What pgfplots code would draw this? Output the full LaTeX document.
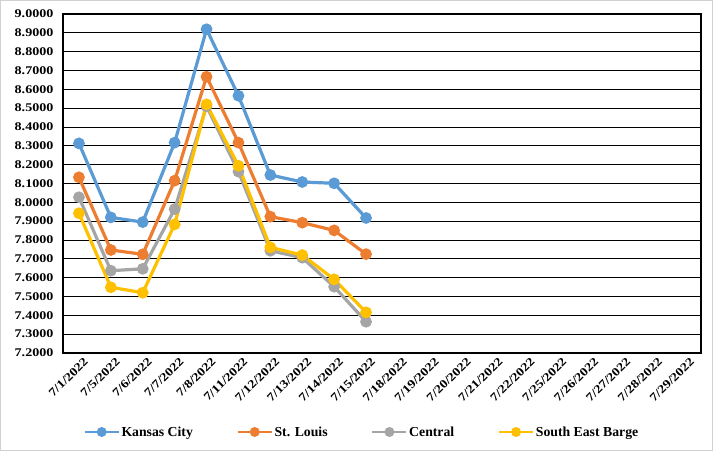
\documentclass[border=0pt]{standalone}
\usepackage{pgfplots}
\pgfplotsset{compat=1.18}
\usepackage{fontspec}
\setmainfont{Liberation Serif}[FakeStretch=1.2]
\newfontfamily\legfont{Liberation Serif}
\definecolor{kc}{HTML}{5B9BD5}
\definecolor{stl}{HTML}{ED7D31}
\definecolor{cen}{HTML}{A5A5A5}
\definecolor{seb}{HTML}{FFC000}
\begin{document}
\begin{tikzpicture}
\draw[line width=1bp, color=black!18] (0.5bp,0.5bp) rectangle (712.5bp,450.5bp);
\begin{axis}[
  at={(63bp,98bp)}, anchor=south west,
  scale only axis, width=638bp, height=339bp,
  xmin=-0.5, xmax=19.5, ymin=7.2, ymax=9.0,
  ytick distance=0.1,
  xtick={0,...,19},
  xticklabels={7/1/2022,7/5/2022,7/6/2022,7/7/2022,7/8/2022,7/11/2022,7/12/2022,7/13/2022,7/14/2022,7/15/2022,7/18/2022,7/19/2022,7/20/2022,7/21/2022,7/22/2022,7/25/2022,7/26/2022,7/27/2022,7/28/2022,7/29/2022},
  major tick length=0pt,
  ymajorgrids, grid style={black, line width=0.9bp},
  axis line style={black, line width=1.1bp},
  /pgf/number format/assume math mode=true,
  yticklabel style={/pgf/number format/fixed, /pgf/number format/fixed zerofill, /pgf/number format/precision=4, font=\fontsize{11.8}{13}\selectfont\bfseries, xshift=-6bp},
  xticklabel style={rotate=45, anchor=north east, font=\fontsize{11.8}{13}\selectfont\bfseries, xshift=4bp, yshift=-2bp},
  every axis plot/.append style={line width=3.2bp, mark=*, mark size=4.2bp, mark options={draw=none}},
  legend style={at={(0.468,-0.233)}, anchor=center, draw=none, font=\fontsize{13.8}{15}\legfont\bfseries, /tikz/every even column/.append style={column sep=42bp}, inner sep=0pt, nodes={inner sep=1.5bp}},
  legend columns=4,
  legend cell align=left,
  legend image code/.code={\draw[line width=2.6bp, mark size=3.6bp, mark repeat=2,mark phase=2] plot coordinates {(0bp,0bp)(17bp,0bp)(34bp,0bp)};},
]
\addplot[kc] coordinates {(0,8.313)(1,7.920)(2,7.895)(3,8.317)(4,8.919)(5,8.566)(6,8.145)(7,8.108)(8,8.101)(9,7.917)};
\addlegendentry{Kansas City}
\addplot[stl] coordinates {(0,8.133)(1,7.747)(2,7.724)(3,8.115)(4,8.667)(5,8.317)(6,7.924)(7,7.892)(8,7.851)(9,7.725)};
\addlegendentry{St. Louis}
\addplot[cen] coordinates {(0,8.027)(1,7.637)(2,7.647)(3,7.964)(4,8.510)(5,8.163)(6,7.743)(7,7.706)(8,7.552)(9,7.366)};
\addlegendentry{Central}
\addplot[seb] coordinates {(0,7.942)(1,7.549)(2,7.520)(3,7.883)(4,8.520)(5,8.194)(6,7.761)(7,7.720)(8,7.591)(9,7.416)};
\addlegendentry{South East Barge}
\end{axis}
\end{tikzpicture}
\end{document}
